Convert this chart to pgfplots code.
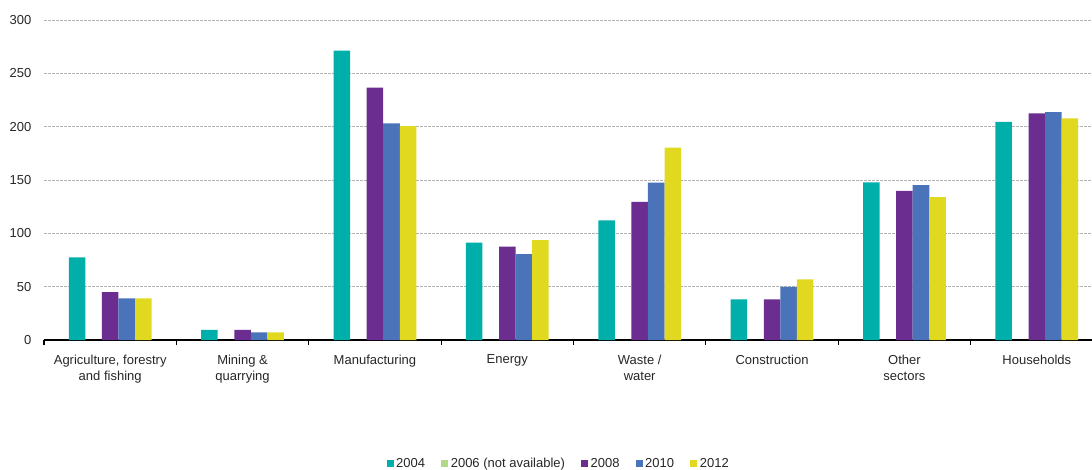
\documentclass[border=0pt]{standalone}
\usepackage{pgfplots}
\pgfplotsset{compat=1.18}
\usepackage{fontspec}
\setmainfont{Liberation Sans}
\definecolor{c04}{RGB}{0,175,170}
\definecolor{c06}{RGB}{180,216,138}
\definecolor{c08}{RGB}{107,45,143}
\definecolor{c10}{RGB}{75,115,185}
\definecolor{c12}{RGB}{225,217,31}
\pgfplotsset{
  sq/.style={legend image code/.code={\fill[##1] (0pt,-2.6pt) rectangle (5.25pt,2.6pt);}},
  mybar/.style={ybar, bar width=0.125, draw=none, sq},
}
\begin{document}
\begin{tikzpicture}
\path[use as bounding box] (0,0) rectangle (819pt,351.75pt);
\begin{axis}[
  at={(33pt,96.75pt)}, anchor=south west,
  scale only axis, width=786pt, height=240pt,
  font=\fontsize{9.75}{12}\selectfont,
  /pgf/number format/assume math mode=true,
  xmin=-0.5, xmax=7.417, ymin=0, ymax=300,
  axis x line*=bottom, axis y line*=left,
  y axis line style={draw=none},
  x axis line style={black, line width=0.8pt, -},
  ytick={0,50,...,300},
  ymajorgrids, grid style={black!30, dash pattern=on 2pt off 1pt, line width=0.4pt},
  major tick length=0pt,
  minor tick length=3.75pt,
  tick align=outside,
  minor x tick style={black, line width=0.8pt},
  xtick={0,...,7},
  minor xtick={-0.5,0.5,1.5,2.5,3.5,4.5,5.5,6.5},
  xticklabels={{Agriculture, forestry\\and fishing},{Mining \&\\quarrying},Manufacturing,Energy,{Waste /\\water},Construction,{Other\\sectors},Households},
  xticklabel style={align=center, anchor=north, yshift=-7.5pt, text=black!85},
  yticklabel style={anchor=east, xshift=-6pt, text=black!85},
  legend style={at={(0.4914,-0.386)}, anchor=center, draw=none, fill=none,
    legend columns=-1, font=\fontsize{9.75}{11.25}\selectfont, text=black!85,
    /tikz/every even column/.append style={column sep=10pt}},
  legend cell align=left,
]
\addplot[mybar, bar shift=-0.25, fill=c04] coordinates {(0,77.5)(1,9.4)(2,271.2)(3,91.2)(4,112.2)(5,38.1)(6,147.8)(7,204.4)};
\addlegendentry{2004}
\addlegendimage{sq, fill=c06, draw=none}
\addlegendentry{2006 (not available)}
\addplot[mybar, bar shift=0, fill=c08] coordinates {(0,45)(1,9.4)(2,236.5)(3,87.5)(4,129.4)(5,38.1)(6,139.7)(7,212.5)};
\addlegendentry{2008}
\addplot[mybar, bar shift=0.125, fill=c10] coordinates {(0,39)(1,7.2)(2,203)(3,80.6)(4,147.5)(5,49.7)(6,145.3)(7,213.75)};
\addlegendentry{2010}
\addplot[mybar, bar shift=0.25, fill=c12] coordinates {(0,39)(1,7.2)(2,200.6)(3,93.75)(4,180.3)(5,56.9)(6,134)(7,207.8)};
\addlegendentry{2012}
\end{axis}
\end{tikzpicture}
\end{document}
